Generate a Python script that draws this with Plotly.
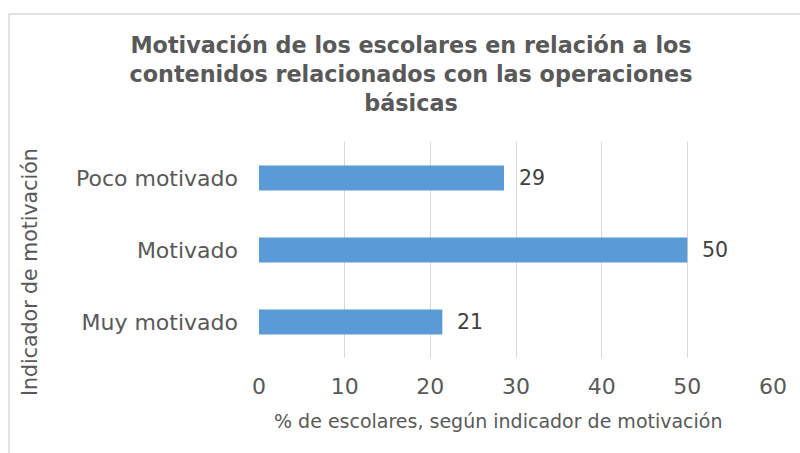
import plotly.graph_objects as go

categories = ["Muy motivado", "Motivado", "Poco motivado"]
values = [21.4, 50.0, 28.6]
labels = ["21", "50", "29"]
x_ticks = [0, 10, 20, 30, 40, 50, 60]

title_text = "<b>Motivación de los escolares en relación a los<br>contenidos relacionados con las operaciones<br>básicas</b>"
x_title = "% de escolares, según indicador de motivación"
y_title = "Indicador de motivación"

FONT = "Verdana, DejaVu Sans, sans-serif"
W, H = 800, 453
L, R, T, B = 259, 27, 142, 95

fig = go.Figure()
fig.add_trace(go.Bar(
    y=categories, x=values, orientation="h",
    marker=dict(color="#5b9bd5", line=dict(width=0)),
    width=0.35, hoverinfo="skip",
))

for c, v, t in zip(categories, values, labels):
    fig.add_annotation(x=v, y=c, xref="x", yref="y", text=t, showarrow=False,
                       xanchor="left", xshift=13,
                       font=dict(family=FONT, size=20.5, color="#404040"))

pw = W - L - R
ph = H - T - B
def px2paperx(px):
    return (px - L) / pw
def px2papery(py):
    return (H - B - py) / ph

fig.add_annotation(x=px2paperx(498), y=px2papery(421), xref="paper", yref="paper",
                   text=x_title, showarrow=False, xanchor="center", yanchor="middle",
                   font=dict(family=FONT, size=19, color="#595959"))
fig.add_annotation(x=px2paperx(30), y=px2papery(272), xref="paper", yref="paper",
                   text=y_title, showarrow=False, textangle=-90, xanchor="center", yanchor="middle",
                   font=dict(family=FONT, size=20.5, color="#595959"))

fig.add_shape(type="rect", xref="paper", yref="paper",
              x0=px2paperx(9), x1=px2paperx(820), y0=px2papery(470), y1=px2papery(14),
              line=dict(color="#d9d9d9", width=1.5), fillcolor="rgba(0,0,0,0)", layer="below")

fig.update_layout(
    width=W, height=H,
    margin=dict(l=L, r=R, t=T, b=B, autoexpand=False),
    paper_bgcolor="white", plot_bgcolor="white",
    showlegend=False,
    title=dict(text=title_text, x=411 / W, xref="container", xanchor="center",
               y=1 - 53 / H, yref="container", yanchor="top",
               font=dict(family=FONT, size=22.3, color="#595959")),
    xaxis=dict(range=[0, 60], tickvals=x_ticks, showgrid=True, gridcolor="#d9d9d9", gridwidth=1.3,
               zeroline=False, showline=False, ticks="", ticklabelstandoff=13,
               tickfont=dict(family=FONT, size=22, color="#595959"), fixedrange=True),
    yaxis=dict(range=[-0.5, 2.5], showgrid=False, zeroline=False, showline=False, ticks="",
               ticklabelstandoff=20, categoryorder="array", categoryarray=categories,
               tickfont=dict(family=FONT, size=22, color="#595959"), fixedrange=True),
)

fig.write_html("out.html", config={"displayModeBar": False},
               post_script="document.body.style.margin='0px';")
